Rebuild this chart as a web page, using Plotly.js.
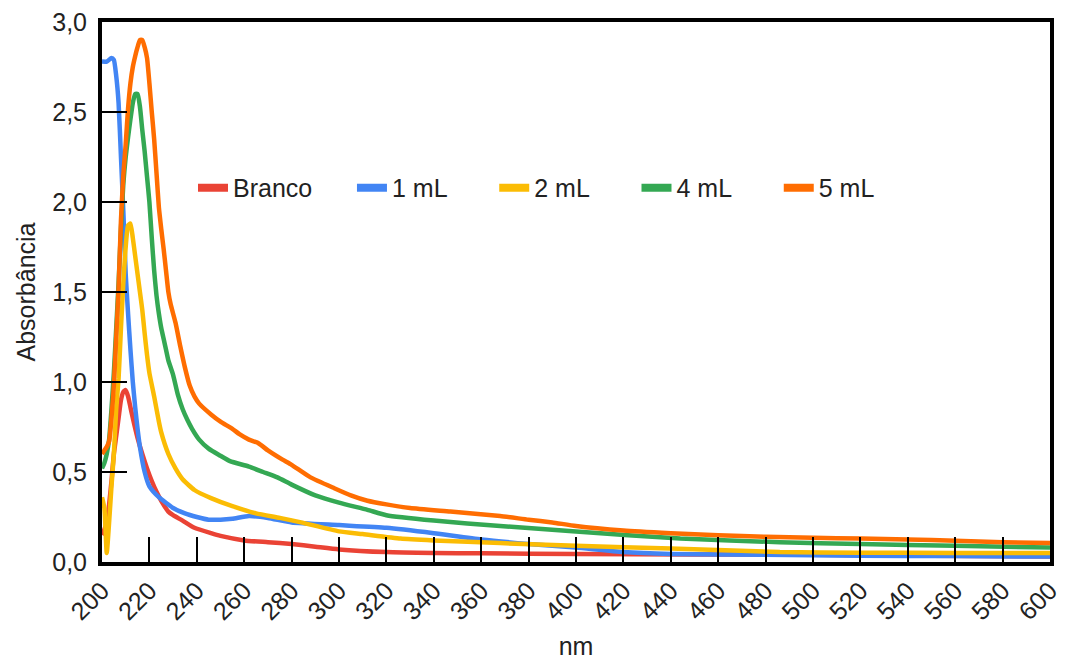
<!DOCTYPE html>
<html>
<head>
<meta charset="utf-8">
<script src="https://cdn.plot.ly/plotly-3.0.1.min.js"></script>
<style>
  html, body { margin: 0; padding: 0; background: #ffffff; }
  #chart { width: 1066px; height: 660px; }
</style>
</head>
<body>
<div id="chart"></div>
<script>
// ---- Data ----
const seriesNames = ["Branco", "1 mL", "2 mL", "4 mL", "5 mL"];
const seriesColors = ["#EA4335", "#4285F4", "#FBBC04", "#34A853", "#FF6D01"];

const brancoNm  = [200,201,202,203,204,205,206,207,208,209,210,211,212,213,215,217,219,221,223,225,228,230,234,239,246,250,260,270,280,290,300,320,340,360,400,450,500,550,600];
const brancoAbs = [0.15,0.18,0.22,0.32,0.45,0.60,0.70,0.80,0.90,0.945,0.955,0.92,0.86,0.80,0.69,0.60,0.52,0.45,0.39,0.34,0.28,0.26,0.23,0.19,0.16,0.145,0.12,0.11,0.10,0.085,0.07,0.055,0.05,0.048,0.045,0.042,0.04,0.035,0.03];

const ml1Nm  = [200,202,204,205,206,207,208,209,210,211,212,213,214,215,216,218,220,224,230,235,240,245,250,255,262,270,280,300,320,340,360,380,400,420,440,480,520,560,600];
const ml1Abs = [2.78,2.78,2.80,2.79,2.70,2.55,2.25,1.95,1.60,1.38,1.18,1.00,0.86,0.74,0.64,0.50,0.42,0.36,0.30,0.27,0.25,0.235,0.235,0.24,0.255,0.245,0.22,0.205,0.19,0.16,0.125,0.10,0.08,0.055,0.045,0.04,0.035,0.033,0.03];

const ml2Nm  = [200,201,202,203,204,205,206,207,208,209,210,211,212,213,214,215,216,217,218,219,220,222,224,225,228,231,234,239,246,255,265,275,284,300,310,326,340,368,400,440,486,520,560,600];
const ml2Abs = [0.36,0.30,0.05,0.22,0.42,0.60,0.85,1.02,1.30,1.55,1.75,1.87,1.88,1.80,1.70,1.60,1.50,1.40,1.27,1.15,1.05,0.92,0.78,0.72,0.60,0.52,0.46,0.40,0.355,0.31,0.27,0.245,0.22,0.17,0.155,0.13,0.12,0.105,0.09,0.075,0.055,0.052,0.05,0.05];

const ml4Nm  = [200,201,202,203,204,205,206,207,208,209,210,211,212,213,214,215,216,217,218,219,220,221,222,223,224,225,226,227,228,230,232,234,236,238,241,245,250,254,262,268,274,280,290,300,312,320,340,368,400,444,486,520,560,600];
const ml4Abs = [0.52,0.55,0.60,0.68,0.85,1.05,1.30,1.55,1.85,2.10,2.25,2.36,2.46,2.55,2.60,2.60,2.53,2.40,2.28,2.14,2.00,1.80,1.62,1.48,1.38,1.30,1.24,1.18,1.12,1.04,0.93,0.85,0.79,0.74,0.68,0.63,0.59,0.56,0.53,0.50,0.47,0.43,0.37,0.33,0.29,0.26,0.23,0.20,0.17,0.13,0.11,0.10,0.09,0.08];

const ml5Nm  = [200,201,202,203,204,205,206,207,208,209,210,211,212,213,214,215,216,217,218,219,220,221,222,223,224,225,226,227,228,229,231,233,235,237,239,241,246,250,255,258,262,266,270,276,280,288,298,305,312,320,330,347,368,380,390,400,420,440,460,480,500,520,540,560,580,600];
const ml5Abs = [0.60,0.62,0.64,0.67,0.80,0.98,1.25,1.52,1.90,2.15,2.32,2.52,2.66,2.75,2.81,2.86,2.90,2.90,2.86,2.80,2.66,2.50,2.35,2.16,1.97,1.85,1.74,1.62,1.50,1.43,1.33,1.20,1.08,0.98,0.92,0.88,0.82,0.78,0.74,0.71,0.68,0.66,0.62,0.57,0.54,0.47,0.41,0.37,0.34,0.32,0.30,0.28,0.255,0.235,0.22,0.20,0.175,0.16,0.148,0.14,0.135,0.13,0.125,0.118,0.11,0.105];

const xTicks = [200,220,240,260,280,300,320,340,360,380,400,420,440,460,480,500,520,540,560,580,600];
const yTicks = [0,0.5,1,1.5,2,2.5,3];

// ---- Traces ----
const xs = [brancoNm, ml1Nm, ml2Nm, ml4Nm, ml5Nm];
const ys = [brancoAbs, ml1Abs, ml2Abs, ml4Abs, ml5Abs];
const traces = [];
for (let i = 0; i < seriesNames.length; i++) {
  traces.push({
    type: "scatter", mode: "lines",
    x: xs[i], y: ys[i],
    name: seriesNames[i],
    showlegend: false,
    line: { color: seriesColors[i], width: 4.5, shape: "spline", smoothing: 0.5 },
    hoverinfo: "skip"
  });
}
// legend-only entries (thicker swatches, like the reference)
const nb = "\u00A0";
const pads = [nb.repeat(5), nb.repeat(6), nb.repeat(6), nb.repeat(6), ""];
for (let i = 0; i < seriesNames.length; i++) {
  traces.push({
    type: "scatter", mode: "lines",
    x: [null], y: [null],
    name: seriesNames[i] + pads[i],
    showlegend: true,
    line: { color: seriesColors[i], width: 8 }
  });
}

const font = "Liberation Sans, Arial, sans-serif";
const fs = 25;
const layout = {
  width: 1066, height: 660,
  margin: { l: 102, r: 16, t: 22, b: 98 },
  paper_bgcolor: "#ffffff",
  plot_bgcolor: "#ffffff",
  separators: ",.",
  font: { family: font, size: fs, color: "#222222" },
  showlegend: true,
  legend: {
    orientation: "h",
    x: 0.096, xanchor: "left",
    y: 0.6926, yanchor: "middle",
    font: { family: font, size: fs, color: "#222222" },
    bgcolor: "rgba(0,0,0,0)",
    itemclick: false
  },
  xaxis: {
    range: [200, 600],
    tickmode: "array", tickvals: xTicks, ticktext: xTicks.map(String),
    tickangle: -45,
    ticks: "inside", ticklen: 25, tickwidth: 2, tickcolor: "#000000",
    showline: true, linecolor: "#000000", linewidth: 4, mirror: true,
    showgrid: false, zeroline: false,
    tickfont: { family: font, size: fs, color: "#222222" },
    title: { text: "nm", font: { family: font, size: fs, color: "#222222" }, standoff: 27 }
  },
  yaxis: {
    range: [0, 3],
    tickmode: "array", tickvals: yTicks,
    tickformat: ".1f",
    ticks: "inside", ticklen: 25, tickwidth: 2, tickcolor: "#000000",
    showline: true, linecolor: "#000000", linewidth: 4, mirror: true,
    showgrid: false, zeroline: false,
    tickfont: { family: font, size: fs, color: "#222222" },
    ticklabelstandoff: 6,
    title: { text: "Absorbância", font: { family: font, size: fs, color: "#222222" }, standoff: 10 }
  }
};

Plotly.newPlot("chart", traces, layout, { staticPlot: true, displayModeBar: false });
</script>
</body>
</html>
